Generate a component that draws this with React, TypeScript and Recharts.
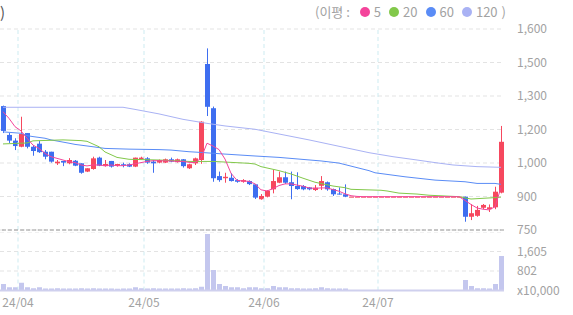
import React from "react";
import { ComposedChart, Bar, Line, XAxis, YAxis, CartesianGrid, ReferenceLine } from "recharts";

// trading days, yy/mm/dd
const dates = [
  "24/03/27", "24/03/28", "24/03/29",
  "24/04/01", "24/04/02", "24/04/03", "24/04/04", "24/04/05", "24/04/08", "24/04/09", "24/04/11", "24/04/12",
  "24/04/15", "24/04/16", "24/04/17", "24/04/18", "24/04/19", "24/04/22", "24/04/23", "24/04/24", "24/04/25",
  "24/04/26", "24/04/29", "24/04/30",
  "24/05/02", "24/05/03", "24/05/07", "24/05/08", "24/05/09", "24/05/10", "24/05/13", "24/05/14", "24/05/16",
  "24/05/17", "24/05/20", "24/05/21", "24/05/22", "24/05/23", "24/05/24", "24/05/27", "24/05/28", "24/05/29",
  "24/05/30", "24/05/31",
  "24/06/03", "24/06/04", "24/06/05", "24/06/07", "24/06/10", "24/06/11", "24/06/12", "24/06/13", "24/06/14",
  "24/06/17", "24/06/18", "24/06/19", "24/06/20", "24/06/21", "24/06/24", "24/06/25", "24/06/26", "24/06/27",
  "24/06/28",
  "24/07/01", "24/07/02", "24/07/03", "24/07/04", "24/07/05", "24/07/08", "24/07/09", "24/07/10", "24/07/11",
  "24/07/12", "24/07/15", "24/07/16", "24/07/17", "24/07/18", "24/07/19", "24/07/22", "24/07/23", "24/07/24",
  "24/07/25", "24/07/26", "24/07/29",
];

const opens = [
  1274, 1152, 1128, 1102, 1160, 1102, 1115, 1081, 1081, 1032,
  1042, 1032, 1043, 1032, 997, 1008, 1056, 1020, 1042, 1022,
  1028, 1028, 1018, 1050, 1053, 1039, 1035, 1035, 1049, 1037,
  1049, 1011, 1032, 1046, 1452, 1265, 978, 969, 971, 961,
  954, 957, 943, 880, 891, 922, 950, 973, 952, 936,
  936, 930, 919, 937, 952, 923, 904, 901, 891, 891,
  891, 891, 891, 891, 891, 891, 891, 891, 891, 891,
  891, 891, 891, 891, 891, 891, 891, 891, 806, 810,
  844, 838, 846, 908,
];
const highs = [
  1276, 1160, 1138, 1229, 1160, 1109, 1126, 1088, 1081, 1046,
  1042, 1054, 1046, 1032, 1011, 1060, 1060, 1046, 1042, 1030,
  1035, 1032, 1056, 1060, 1058, 1046, 1048, 1052, 1056, 1052,
  1050, 1030, 1056, 1210, 1518, 1272, 997, 992, 990, 965,
  965, 960, 945, 902, 918, 1004, 997, 997, 997, 994,
  940, 932, 940, 978, 955, 925, 930, 943, 891, 891,
  891, 891, 891, 891, 891, 891, 891, 891, 891, 891,
  891, 891, 891, 891, 891, 891, 891, 891, 859, 852,
  860, 858, 933, 1190,
];
const lows = [
  1160, 1118, 1088, 1100, 1095, 1064, 1076, 1049, 1035, 1025,
  1020, 1028, 1020, 988, 995, 1005, 1020, 1018, 1014, 1018,
  1015, 1016, 1016, 1048, 1030, 992, 1032, 1033, 1037, 1035,
  1014, 1008, 1025, 1030, 1232, 954, 954, 950, 955, 950,
  950, 940, 881, 878, 888, 905, 948, 945, 880, 920,
  918, 918, 915, 919, 916, 894, 900, 889, 891, 891,
  891, 891, 891, 891, 891, 891, 891, 891, 891, 891,
  891, 891, 891, 891, 891, 891, 891, 785, 792, 806,
  838, 826, 838, 905,
];
const closes = [
  1169, 1128, 1105, 1156, 1102, 1084, 1079, 1060, 1039, 1039,
  1035, 1046, 1022, 992, 1011, 1053, 1022, 1029, 1018, 1029,
  1022, 1018, 1056, 1056, 1035, 1032, 1046, 1049, 1039, 1049,
  1020, 1028, 1053, 1208, 1271, 969, 961, 975, 957, 954,
  961, 944, 887, 894, 916, 957, 973, 950, 936, 923,
  922, 922, 929, 957, 922, 901, 903, 891, 891, 891,
  891, 891, 891, 891, 891, 891, 891, 891, 891, 891,
  891, 891, 891, 891, 891, 891, 891, 806, 821, 835,
  856, 846, 912, 1123,
];
// x10,000 shares
const volumes = [
  267, 130, 130, 320, 130, 90, 130, 85, 80, 90,
  80, 85, 80, 90, 80, 90, 85, 80, 80, 75,
  80, 80, 130, 90, 85, 90, 80, 80, 85, 80,
  90, 85, 90, 150, 2325, 843, 267, 185, 130, 130,
  90, 130, 130, 90, 90, 185, 130, 130, 90, 90,
  85, 80, 90, 130, 90, 85, 80, 80, 0, 0,
  0, 0, 0, 0, 0, 0, 0, 0, 0, 0,
  0, 0, 0, 0, 0, 0, 0, 432, 185, 90,
  90, 85, 267, 1420,
];

const ma5 = [
  1250, 1222, 1187, 1169, 1138, 1109, 1095, 1074, 1060, 1053,
  1046, 1039, 1035, 1025, 1021, 1025, 1025, 1022, 1025, 1022,
  1022, 1025, 1030, 1035, 1040, 1043, 1043, 1042, 1042, 1040,
  1040, 1036, 1035, 1053, 1117, 1105, 1090, 1050, 990, 960,
  957, 956, 945, 920, 915, 925, 938, 945, 945, 940,
  935, 928, 926, 928, 928, 921, 914, 903, 895, 892,
  891, 891, 891, 891, 891, 891, 891, 891, 891, 891,
  891, 891, 891, 891, 891, 891, 891, 875, 858, 843,
  838, 835, 848, 930,
];
// [day index, value]
const ma20Points: [number, number][] = [
  [0, 1114], [4, 1118], [5, 1127], [10, 1131], [13, 1128], [14, 1125], [16, 1102], [17, 1080], [19, 1057],
  [21, 1049], [26, 1046], [31, 1040], [35, 1040], [41, 1032], [42, 1029], [43, 1018], [46, 1001], [48, 987],
  [50, 969], [52, 952], [55, 936], [57, 929], [58, 922], [63, 918], [64, 915], [66, 906], [69, 902],
  [71, 897], [76, 891], [78, 881], [82, 887], [83, 889],
];
const ma60Points: [number, number][] = [
  [0, 1165], [3, 1159], [4, 1149], [5, 1145], [7, 1138], [8, 1131], [11, 1117], [12, 1112], [15, 1102],
  [17, 1095], [21, 1092], [26, 1090], [28, 1088], [31, 1081], [33, 1078], [37, 1071], [42, 1063], [46, 1057],
  [53, 1042], [56, 1033], [61, 1001], [62, 992], [67, 975], [72, 961], [77, 954], [79, 947], [82, 947],
  [83, 943],
];
const ma120Points: [number, number][] = [
  [0, 1269], [20, 1269], [22, 1260], [26, 1241], [30, 1218], [34, 1201], [37, 1190], [42, 1176], [44, 1166],
  [51, 1131], [61, 1077], [65, 1060], [69, 1046], [72, 1035], [75, 1025], [79, 1018], [83, 1015],
];

const monthTicks = ["24/04/01", "24/05/02", "24/06/03", "24/07/01"];
const priceMin = 750;
const priceMax = 1600;
const priceTickLabels = ["750", "900", "1,000", "1,200", "1,300", "1,500", "1,600"];
const volumeMax = 2407;
const volumeTickLabels = ["x10,000", "802", "1,605"];
const maLabels = ["5", "20", "60", "120"];
const maColors = ["#f4449b", "#82c84a", "#5a8cf6", "#a9b2f4"];

const RED = "#f6485e";
const BLUE = "#3e6ef0";
const GRAY = "#a2a2a2";
const FONT = "'Noto Sans CJK KR', 'Noto Sans', sans-serif";

const priceTicks = priceTickLabels.map((_, k) => priceMin + (k * (priceMax - priceMin)) / (priceTickLabels.length - 1));
const volumeTicks = volumeTickLabels.map((_, k) => (k * volumeMax) / 3);

const pick = (points: [number, number][], i: number) => {
  const p = points.find((q) => q[0] === i);
  return p ? p[1] : null;
};

const rows = dates.map((date, i) => ({
  date,
  open: opens[i],
  high: highs[i],
  low: lows[i],
  close: closes[i],
  volume: volumes[i],
  ma5: ma5[i],
  ma20: pick(ma20Points, i),
  ma60: pick(ma60Points, i),
  ma120: pick(ma120Points, i),
}));

function Candle(props: any) {
  const { x, y, width, height, payload } = props;
  if (x == null || y == null || !payload) return null;
  const { open, close, high, low } = payload;
  const color = close >= open ? RED : BLUE;
  const top = Math.min(y, y + height);
  const h = Math.abs(height);
  const ratio = high > low ? h / (high - low) : 0;
  const bodyTop = top + (high - Math.max(open, close)) * ratio;
  const bodyH = Math.max(1, (Math.max(open, close) - Math.min(open, close)) * ratio);
  const cx = Math.floor(x + width / 2) + 0.5;
  return (
    <g>
      <line x1={cx} x2={cx} y1={top} y2={top + h} stroke={color} strokeWidth={1} />
      <rect x={x} y={bodyTop} width={width} height={bodyH} fill={color} />
    </g>
  );
}

const axisTick = { fill: GRAY, fontSize: 12, fontFamily: FONT };

export default function App() {
  return (
    <div style={{ position: "absolute", left: 0, top: 0, width: 573, height: 315, background: "#fff", fontFamily: FONT }}>
      <div style={{ position: "absolute", left: 0, top: 1, fontSize: 15, color: "#555" }}>)</div>
      <div
        style={{
          position: "absolute",
          right: 67,
          top: 2,
          display: "flex",
          alignItems: "center",
          fontSize: 13,
          color: GRAY,
          whiteSpace: "nowrap",
        }}
      >
        <span style={{ marginRight: 6 }}>(이평 :</span>
        {maLabels.map((m, k) => (
          <span key={m} style={{ display: "flex", alignItems: "center", marginLeft: 4 }}>
            <span style={{ width: 10, height: 10, borderRadius: 5, background: maColors[k], marginRight: 4 }} />
            <span style={{ marginRight: 4 }}>{m}</span>
          </span>
        ))}
        <span>)</span>
      </div>

      <div style={{ position: "absolute", left: 0, top: 0 }}>
        <ComposedChart width={573} height={244} data={rows} margin={{ top: 29, right: 0, left: 0, bottom: 14 }} barCategoryGap={0}>
          <CartesianGrid vertical={false} stroke="#e3e3e3" strokeDasharray="4 3" />
          <XAxis dataKey="date" hide />
          <YAxis
            orientation="right"
            width={69}
            domain={[priceMin, priceMax]}
            ticks={priceTicks}
            interval={0}
            tickFormatter={(v: number) => priceTickLabels[priceTicks.indexOf(v)] ?? ""}
            axisLine={false}
            tickLine={false}
            tickSize={0}
            tickMargin={13}
            tick={axisTick}
            allowDataOverflow
          />
          {monthTicks.map((t) => (
            <ReferenceLine key={t} x={t} position="start" stroke="#cdebf1" strokeDasharray="4 3" />
          ))}
          <ReferenceLine y={priceMin} stroke="#9a9a9a" strokeDasharray="4 2" />
          <Bar dataKey={(d: any) => [d.low, d.high]} barSize={5} shape={(p: any) => <Candle {...p} />} isAnimationActive={false} />
          <Line dataKey="ma120" stroke={maColors[3]} strokeWidth={1} dot={false} connectNulls isAnimationActive={false} />
          <Line dataKey="ma60" stroke={maColors[2]} strokeWidth={1} dot={false} connectNulls isAnimationActive={false} />
          <Line dataKey="ma20" stroke={maColors[1]} strokeWidth={1} dot={false} connectNulls isAnimationActive={false} />
          <Line dataKey="ma5" stroke={maColors[0]} strokeWidth={1} dot={false} isAnimationActive={false} />
        </ComposedChart>
      </div>

      <div style={{ position: "absolute", left: 0, top: 232 }}>
        <ComposedChart width={573} height={83} data={rows} margin={{ top: 0, right: 0, left: 0, bottom: 0 }} barCategoryGap={0}>
          <CartesianGrid vertical={false} stroke="#e3e3e3" strokeDasharray="4 3" />
          <XAxis
            dataKey="date"
            ticks={monthTicks}
            interval={0}
            tickFormatter={(d: string) => d.slice(0, 5)}
            axisLine={{ stroke: "#cfd0ee", strokeWidth: 2 }}
            tickLine={false}
            tickSize={0}
            tickMargin={8}
            height={24.5}
            tick={{ ...axisTick, dx: -3 }}
          />
          <YAxis
            orientation="right"
            width={69}
            domain={[0, volumeMax]}
            ticks={volumeTicks}
            interval={0}
            tickFormatter={(v: number) => volumeTickLabels[volumeTicks.indexOf(v)] ?? ""}
            axisLine={false}
            tickLine={false}
            tickSize={0}
            tickMargin={13}
            tick={axisTick}
            allowDataOverflow
          />
          {monthTicks.map((t) => (
            <ReferenceLine key={t} x={t} position="start" stroke="#cdebf1" strokeDasharray="4 3" />
          ))}
          <Bar dataKey="volume" barSize={5} fill="#c4c7ee" isAnimationActive={false} />
        </ComposedChart>
      </div>
    </div>
  );
}
